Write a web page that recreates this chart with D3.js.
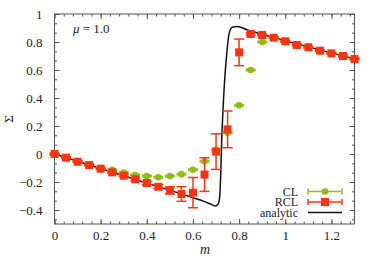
<!DOCTYPE html>
<html><head><meta charset="utf-8">
<script src="https://cdn.jsdelivr.net/npm/d3@7"></script>
<style>
body{margin:0;background:#fff;}
svg{display:block;}
</style></head>
<body>
<svg id="c" width="374" height="261"></svg>
<script>
const mValues = [0,0.05,0.1,0.15,0.2,0.25,0.3,0.35,0.4,0.45,0.5,0.55,0.6,0.65,0.7,0.75,0.8,0.85,0.9,0.95,1.0,1.05,1.1,1.15,1.2,1.25,1.3];
const clValues = [0,-0.025,-0.05,-0.077,-0.1,-0.113,-0.133,-0.15,-0.157,-0.166,-0.158,-0.144,-0.112,-0.052,0.03,0.152,0.348,0.60,0.80,0.831,0.805,0.779,0.762,0.738,0.719,0.70,0.679];
const clErrors = [0.005,0.005,0.005,0.005,0.005,0.005,0.005,0.005,0.005,0.005,0.005,0.005,0.005,0.005,0.005,0.005,0.005,0.005,0.005,0.005,0.005,0.005,0.005,0.005,0.005,0.005,0.005];
const rclValues = [0,-0.026,-0.055,-0.079,-0.105,-0.131,-0.155,-0.181,-0.207,-0.234,-0.26,-0.286,-0.276,-0.147,0.017,0.176,0.726,0.857,0.85,0.831,0.805,0.779,0.762,0.738,0.719,0.70,0.679];
const rclErrors = [0.005,0.005,0.005,0.005,0.005,0.005,0.008,0.01,0.012,0.015,0.025,0.052,0.108,0.12,0.127,0.131,0.095,0.008,0.006,0.005,0.005,0.005,0.005,0.005,0.005,0.005,0.005];
const analyticM = [0,0.2,0.4,0.6,0.65,0.68,0.698,0.71,0.716,0.72,0.724,0.73,0.737,0.746,0.756,0.77,0.792,0.836,1.0,1.3];
const analyticS = [0,-0.104,-0.208,-0.312,-0.34,-0.36,-0.372,-0.355,-0.3,-0.16,0.07,0.31,0.52,0.71,0.855,0.905,0.91,0.886,0.81,0.68];
const xTicks = [0,0.2,0.4,0.6,0.8,1,1.2];
const yTicks = [-0.4,-0.2,0,0.2,0.4,0.6,0.8,1];
const seriesNames = ["CL","RCL","analytic"];
const annotation = "= 1.0";

const FONT = "'Liberation Serif','DejaVu Serif',serif";
const green = "#8cbf10", red = "#ff3311", axisCol = "#555";
const svg = d3.select("#c");
const L=54.5, R=354.5, T=14, B=224;
const x = d3.scaleLinear().domain([0,1.3]).range([L,R]);
const y = d3.scaleLinear().domain([-0.5,1]).range([B,T]);
const fmt = d3.format("~g");

const xMinor = d3.range(0,33).map(i=>+(i*0.04).toFixed(3));
const yMinorA = d3.range(-1,23).map(i=>-0.4+i*0.2/3).filter(v=>v>=-0.5&&v<=1.0001);

function clean(g){g.select(".domain").remove(); g.selectAll("line").attr("stroke",axisCol);}
function lab(g){g.selectAll("text").attr("font-family",null).style("font-family",FONT).style("font-size","13px").attr("fill","#222");}
svg.append("g").attr("transform",`translate(0,${B})`)
  .call(d3.axisBottom(x).tickValues(xTicks).tickSize(-5).tickPadding(7).tickFormat(fmt))
  .call(clean).call(lab);
svg.append("g").attr("transform",`translate(0,${T})`)
  .call(d3.axisTop(x).tickValues(xTicks).tickSize(-5).tickFormat("")).call(clean);
svg.append("g").attr("transform",`translate(${L},0)`)
  .call(d3.axisLeft(y).tickValues(yTicks).tickSize(-5).tickPadding(12).tickFormat(fmt))
  .call(clean).call(lab);
svg.append("g").attr("transform",`translate(${R},0)`)
  .call(d3.axisRight(y).tickValues(yTicks).tickSize(-5).tickFormat("")).call(clean);
svg.append("g").attr("transform",`translate(0,${B})`).call(d3.axisBottom(x).tickValues(xMinor).tickSize(-2.5).tickFormat("")).call(clean);
svg.append("g").attr("transform",`translate(0,${T})`).call(d3.axisTop(x).tickValues(xMinor).tickSize(-2.5).tickFormat("")).call(clean);
svg.append("g").attr("transform",`translate(${L},0)`).call(d3.axisLeft(y).tickValues(yMinorA).tickSize(-2.5).tickFormat("")).call(clean);
svg.append("g").attr("transform",`translate(${R},0)`).call(d3.axisRight(y).tickValues(yMinorA).tickSize(-2.5).tickFormat("")).call(clean);

svg.append("rect").attr("x",L).attr("y",T).attr("width",R-L).attr("height",B-T)
  .attr("fill","none").attr("stroke",axisCol).attr("stroke-width",1);

function txt(sel){return sel.style("font-family",FONT).attr("fill","#222");}
txt(svg.append("text")).attr("x",205).attr("y",254).attr("text-anchor","middle")
  .style("font-size","14px").style("font-style","italic").text("m");
txt(svg.append("text")).attr("transform","translate(13,119) rotate(-90)").attr("text-anchor","middle")
  .style("font-size","13px").text("Σ");
const ann = txt(svg.append("text")).attr("x",73).attr("y",33).style("font-size","13px");
ann.append("tspan").style("font-style","italic").text("μ");
ann.append("tspan").text(" " + annotation);

const line = d3.line().x((d,i)=>x(analyticM[i])).y(d=>y(d)).curve(d3.curveMonotoneX);
const plot = svg.append("g");
plot.append("path").attr("d",line(analyticS)).attr("fill","none").attr("stroke","#111").attr("stroke-width",1.5);

function errorSeries(vals, errs, color, shape){
  const g = plot.append("g");
  const cap = 5;
  vals.forEach((v,i)=>{
    const cx = x(mValues[i]);
    const y1 = y(v+errs[i]), y2 = y(v-errs[i]);
    g.append("line").attr("x1",cx).attr("x2",cx).attr("y1",y1).attr("y2",y2).attr("stroke",color).attr("stroke-width",1.5);
    g.append("line").attr("x1",cx-cap).attr("x2",cx+cap).attr("y1",y1).attr("y2",y1).attr("stroke",color).attr("stroke-width",1.5);
    g.append("line").attr("x1",cx-cap).attr("x2",cx+cap).attr("y1",y2).attr("y2",y2).attr("stroke",color).attr("stroke-width",1.5);
    if(shape==="circle") g.append("circle").attr("cx",cx).attr("cy",y(v)).attr("r",3.3).attr("fill",color);
    else g.append("rect").attr("x",cx-4).attr("y",y(v)-4).attr("width",8).attr("height",8).attr("fill",color);
  });
}
errorSeries(clValues, clErrors, green, "circle");
errorSeries(rclValues, rclErrors, red, "square");

const lg = svg.append("g");
const lx1=308, lx2=342, lmid=325;
const rows=[{n:seriesNames[0],c:green,s:"circle",y:191.5},{n:seriesNames[1],c:red,s:"square",y:202},{n:seriesNames[2],c:"#111",s:"line",y:212.5}];
rows.forEach(r=>{
  txt(lg.append("text")).attr("x",298).attr("y",r.y).attr("dy","0.35em").attr("text-anchor","end").style("font-size","12px").text(r.n);
  lg.append("line").attr("x1",lx1).attr("x2",lx2).attr("y1",r.y).attr("y2",r.y).attr("stroke",r.c).attr("stroke-width",1.5);
  if(r.s!=="line"){
    [lx1,lx2].forEach(xx=>lg.append("line").attr("x1",xx).attr("x2",xx).attr("y1",r.y-3).attr("y2",r.y+3).attr("stroke",r.c).attr("stroke-width",1.5));
    if(r.s==="circle") lg.append("circle").attr("cx",lmid).attr("cy",r.y).attr("r",3.3).attr("fill",r.c);
    else lg.append("rect").attr("x",lmid-4).attr("y",r.y-4).attr("width",8).attr("height",8).attr("fill",r.c);
  }
});
</script>
</body></html>
